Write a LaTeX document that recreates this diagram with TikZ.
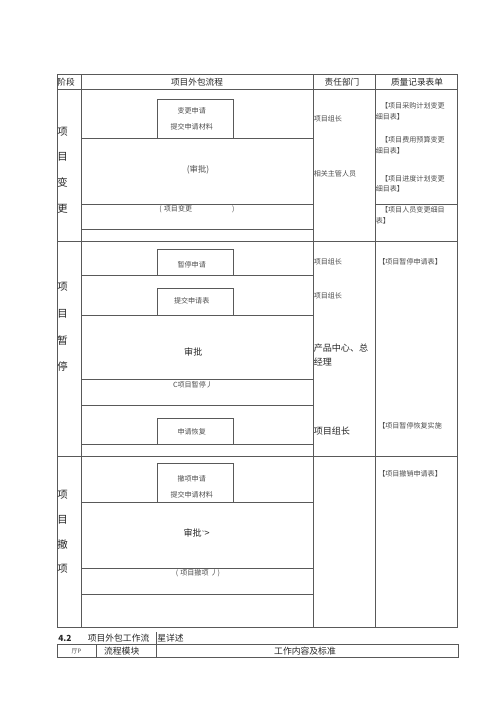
\documentclass[tikz,border=0pt]{standalone}
\usepackage{fontspec}
\setmainfont{Noto Sans CJK SC}
\usetikzlibrary{positioning}
\tikzset{
  rule/.style={line width=0.55pt, color=black!65},
  tiny/.style={font=\fontsize{5.3pt}{8.2pt}\selectfont, text=black!70, inner sep=0pt},
  head/.style={font=\fontsize{6.5pt}{8pt}\selectfont, text=black!85, inner sep=0pt},
  big/.style={font=\fontsize{6.8pt}{11pt}\selectfont, text=black!85, inner sep=0pt},
  stage/.style={font=\fontsize{7.8pt}{19.3pt}\selectfont, text=black!85, inner sep=0pt, align=center},
  rec/.style={tiny, anchor=west, align=left},
}

\begin{document}
\begin{tikzpicture}[x=0.75pt, y=-0.75pt]
	%%%%% START %%%%%
	\useasboundingbox (0,0) rectangle (500,707);
	
	% table frame
	\draw[rule] (57,74) rectangle (457.5,627.5);
	\draw[rule] (57,89.5) -- (457.5,89.5);
	\draw[rule] (57,241) -- (457.5,241);
	\draw[rule] (57,456) -- (457.5,456);
	\draw[rule] (81,74) -- (81,627.5);
	\draw[rule] (313,74) -- (313,627.5);
	\draw[rule] (375,74) -- (375,627.5);
	
	\node[head] (hjd) at (66,82) {阶段};
	\node[head] (hlc) at (197,82) {项目外包流程};
	\node[head] (hzr) at (342,82) {责任部门};
	\node[head] (hjl) at (417,82) {质量记录表单};
	
	% project change
	\draw[rule] (81,138.5) -- (313,138.5);
	\draw[rule] (81,204.5) -- (313,204.5);
	\draw[rule] (81,229.5) -- (313,229.5);
	\draw[rule] (375,204.5) -- (457.5,204.5);
	\draw[rule] (157.5,138.5) rectangle (233.5,99.5);
	
	\node[stage] (sbg) at (62.5,170) {项\\目\\变\\更};
	\node[tiny] (bgsq) at (191.7,111) {变更申请};
	\node[tiny] (bgcl) at (191.7,126.7) {提交申请材料};
	\node[tiny, font=\fontsize{6.3pt}{8pt}\selectfont] (bgsp) at (198,169.3) {(审批)};
	\node[tiny] (bgxm) at (197,209) {(\hspace{1.5pt}项目变更\hspace{30pt})};
	\node[tiny, anchor=west] (bgzz) at (313.5,119) {项目组长};
	\node[tiny, anchor=west] (bgzg) at (313.5,174) {相关主管人员};
	\node[rec] (bgcg) at (375.5,111.2) {\hspace{4pt}【项目采购计划变更\\细目表】};
	\node[rec] (bgfy) at (375.5,145.5) {\hspace{4pt}【项目费用预算变更\\细目表】};
	\node[rec] (bgjd) at (375.5,183.8) {\hspace{4pt}【项目进度计划变更\\细目表】};
	\node[rec] (bgry) at (375.5,215.5) {\hspace{4pt}【项目人员变更细目\\表】};
	
	% project pause
	\draw[rule] (81,275.5) -- (313,275.5);
	\draw[rule] (81,315) -- (313,315);
	\draw[rule] (81,379.5) -- (313,379.5);
	\draw[rule] (81,405.5) -- (313,405.5);
	\draw[rule] (81,444.5) -- (313,444.5);
	\draw[rule] (157.5,275.5) rectangle (233.5,249.5);
	\draw[rule] (157.5,315) rectangle (233.5,288.5);
	\draw[rule] (157.5,444.5) rectangle (233.5,418.5);
	
	\node[stage, font=\fontsize{7.8pt}{20pt}\selectfont] (szt) at (62.5,327) {项\\目\\暂\\停};
	\node[tiny] (ztsq) at (191.7,264.3) {暂停申请};
	\node[tiny] (ztb) at (191.7,301) {提交申请表};
	\node[big] (ztsp) at (193.3,352.3) {审批};
	\node[tiny] (ztxm) at (193,385) {C项目暂停丿};
	\node[tiny] (zthf) at (191.7,431.7) {申请恢复};
	\node[tiny, anchor=west] (ztzz) at (313.5,261.7) {项目组长};
	\node[tiny, anchor=west] (ztzz2) at (313.5,296) {项目组长};
	\node[big, anchor=west, align=left] (ztcp) at (313.5,354.8) {产品中心、总\\经理};
	\node[big, anchor=west] (ztzz3) at (313.5,431) {项目组长};
	\node[rec] (ztsqb) at (378,262.3) {【项目暂停申请表】};
	\node[rec] (zthfb) at (378,425.7) {【项目暂停恢复实施};
	
	% project withdraw
	\draw[rule] (81,502.5) -- (313,502.5);
	\draw[rule] (81,568.5) -- (313,568.5);
	\draw[rule] (81,594.5) -- (313,594.5);
	\draw[rule] (157.5,502.5) rectangle (233.5,463.5);
	
	\node[stage, font=\fontsize{7.8pt}{18.5pt}\selectfont] (scx) at (62.5,532) {项\\目\\撤\\项};
	\node[tiny] (cxsq) at (191.7,478.3) {撤项申请};
	\node[tiny] (cxcl) at (191.7,494.3) {提交申请材料};
	\node[big] (cxsp) at (196.7,533.3) {审批\raisebox{2.5pt}{\fontsize{4pt}{4pt}\selectfont\textasciitilde}>};
	\node[tiny] (cxxm) at (198,573.3) {(\hspace{1.5pt}项目撤项\hspace{1.5pt}丿)};
	\node[rec] (cxsqb) at (378,474.3) {【项目撤销申请表】};
	
	% 4.2 heading
	\node[head, anchor=west, font=\bfseries\fontsize{6.3pt}{8pt}\selectfont] (h42) at (58,638.3) {4.2};
	\node[head, anchor=west, font=\fontsize{6.6pt}{8pt}\selectfont] (h42t) at (87.5,638.3) {项目外包工作流};
	\node[head, anchor=west, font=\fontsize{6.6pt}{8pt}\selectfont] (h42s) at (157,638.3) {星详述};
	
	\draw[rule] (57,644.5) rectangle (458,657);
	\draw[rule] (96.5,644.5) -- (96.5,657);
	\draw[rule] (156,632) -- (156,657);
	\node[tiny, font=\fontsize{4.5pt}{6pt}\selectfont] (xh) at (76.5,651) {厅P};
	\node[head, font=\fontsize{6.6pt}{8pt}\selectfont] (lcmk) at (121.7,650.7) {流程模块};
	\node[head, font=\fontsize{6.6pt}{8pt}\selectfont] (gznr) at (305,650.7) {工作内容及标准};
	
	%%%%% END %%%%%
\end{tikzpicture}
\end{document}
